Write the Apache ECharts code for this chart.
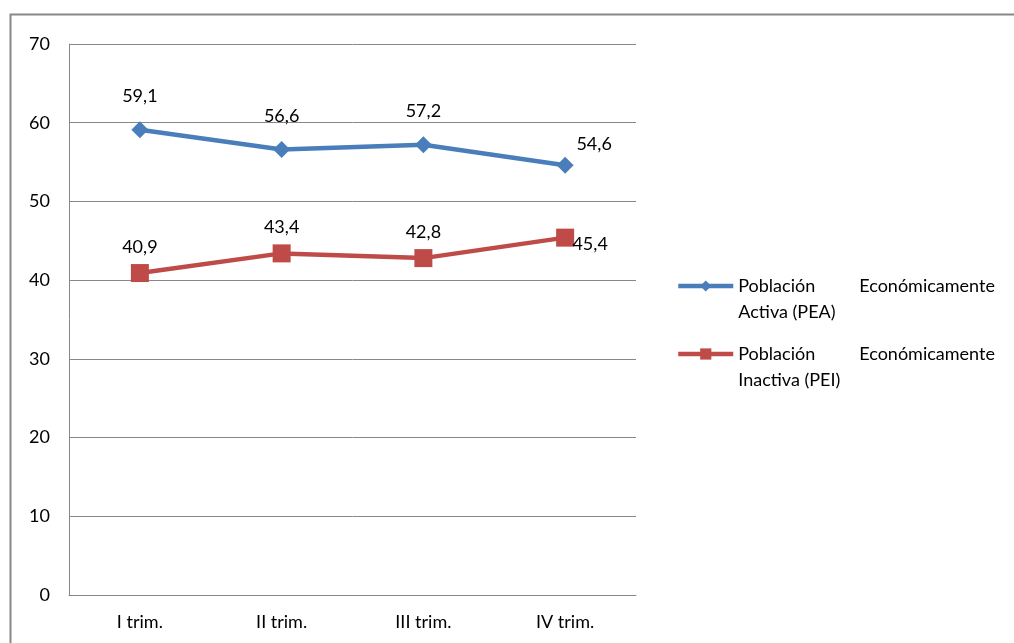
<!DOCTYPE html>
<html>
<head>
<meta charset="utf-8">
<script src="https://cdn.jsdelivr.net/npm/echarts@6/dist/echarts.min.js"></script>
<style>
  html, body { margin: 0; padding: 0; background: #fff; }
  #chart { width: 1014px; height: 643px; }
</style>
</head>
<body>
<div id="chart"></div>
<script>
// Quarterly shares of the population, active vs. inactive (%)
const categories = ['I trim.', 'II trim.', 'III trim.', 'IV trim.'];
const peaValues = [59.1, 56.6, 57.2, 54.6];
const peiValues = [40.9, 43.4, 42.8, 45.4];
const seriesNames = ['Población Económicamente Activa (PEA)', 'Población Económicamente Inactiva (PEI)'];

const FONT = 'Lato, "Open Sans", sans-serif';
const GRAY = '#888888';
const BLUE = '#4A7EBB';
const RED = '#BE4B48';

const fmt = v => String(v.toFixed(1)).replace('.', ',');

// last point labels sit beside the marker instead of above it
function withLabels(values, lastOffset) {
  return values.map((v, i) => i === values.length - 1
    ? { value: v, label: { offset: lastOffset } }
    : v);
}

const chart = echarts.init(document.getElementById('chart'));
chart.setOption({
  animation: false,
  backgroundColor: '#fff',
  textStyle: { fontFamily: FONT },
  graphic: [{
    type: 'rect',
    shape: { x: 10.5, y: 14.5, width: 1200, height: 800 },
    style: { fill: 'none', stroke: GRAY, lineWidth: 2 },
    silent: true
  }],
  grid: { left: 69, right: 378, top: 44, bottom: 48 },
  legend: {
    orient: 'vertical',
    left: 676,
    top: 247,
    padding: 0,
    itemGap: -10,
    itemWidth: 55,
    itemHeight: 14,
    selectedMode: false,
    lineStyle: { width: 4.5 },
    formatter: name => {
      const parts = name.split(' ');
      return '{e| }\n{a|' + parts[0] + '}{b|' + parts[1] + '}\n{a|' + parts.slice(2).join(' ') + '}';
    },
    textStyle: {
      fontFamily: FONT,
      fontSize: 18,
      color: '#000',
      lineHeight: 26,
      rich: {
        e: { fontSize: 18, lineHeight: 26 },
        a: { fontFamily: FONT, fontSize: 18, lineHeight: 26, width: 121, color: '#000' },
        b: { fontFamily: FONT, fontSize: 18, lineHeight: 26, color: '#000' }
      }
    },
    data: seriesNames
  },
  xAxis: {
    type: 'category',
    data: categories,
    boundaryGap: true,
    axisLine: { show: true, lineStyle: { color: GRAY, width: 1 } },
    axisTick: { show: false },
    axisLabel: { color: '#000', fontFamily: FONT, fontSize: 18, margin: 18 }
  },
  yAxis: {
    type: 'value',
    min: 0,
    max: 70,
    interval: 10,
    axisLine: { show: true, lineStyle: { color: GRAY, width: 1 } },
    axisTick: { show: false },
    axisLabel: { color: '#000', fontFamily: FONT, fontSize: 18, margin: 19 },
    splitLine: { show: true, lineStyle: { color: GRAY, width: 1 } }
  },
  series: [
    {
      name: seriesNames[0],
      type: 'line',
      data: withLabels(peaValues, [29, 12]),
      symbol: 'diamond',
      symbolSize: 17,
      color: BLUE,
      lineStyle: { color: BLUE, width: 4.5 },
      itemStyle: { color: BLUE },
      label: {
        show: true,
        position: 'top',
        distance: 16,
        color: '#000',
        fontFamily: FONT,
        fontSize: 18,
        formatter: p => fmt(p.value)
      }
    },
    {
      name: seriesNames[1],
      type: 'line',
      data: withLabels(peiValues, [25, 33]),
      symbol: 'rect',
      symbolSize: 18,
      color: RED,
      lineStyle: { color: RED, width: 4.5 },
      itemStyle: { color: RED },
      label: {
        show: true,
        position: 'top',
        distance: 8,
        color: '#000',
        fontFamily: FONT,
        fontSize: 18,
        formatter: p => fmt(p.value)
      }
    }
  ]
});
</script>
</body>
</html>
